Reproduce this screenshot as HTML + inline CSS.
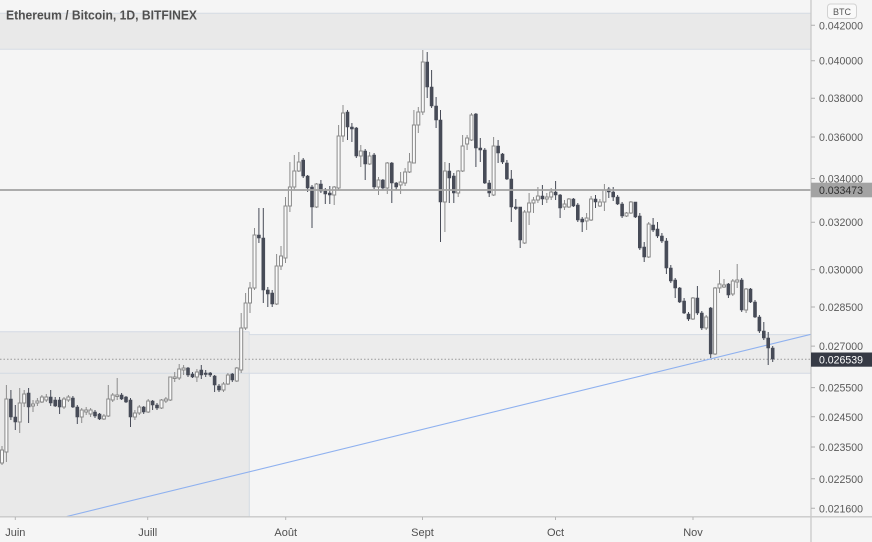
<!DOCTYPE html>
<html>
<head>
<meta charset="utf-8">
<style>
html,body{margin:0;padding:0;background:#f5f5f5;}
body{width:872px;height:542px;overflow:hidden;}
svg{display:block;}
text{font-family:"Liberation Sans",Arial,sans-serif;}
</style>
</head>
<body>
<svg width="872" height="542" viewBox="0 0 872 542" xmlns="http://www.w3.org/2000/svg">
<defs>
<clipPath id="pane"><rect x="0" y="0" width="811" height="516.5"/></clipPath>
</defs>
<rect x="0" y="0" width="872" height="542" fill="#f5f5f5"/>
<g clip-path="url(#pane)">
  <!-- top band -->
  <rect x="0" y="13.3" width="811" height="36" fill="#e9e9e9"/>
  <line x1="0" y1="13.3" x2="811" y2="13.3" stroke="#d6dce4" stroke-width="1"/>
  <line x1="0" y1="49.3" x2="811" y2="49.3" stroke="#d6dce4" stroke-width="1"/>
  <!-- left box -->
  <rect x="0" y="331.7" width="249.3" height="185" fill="#e9e9e9"/>
  <line x1="0" y1="331.7" x2="249.3" y2="331.7" stroke="#d3dae3" stroke-width="1"/>
  <line x1="249.3" y1="331.7" x2="249.3" y2="517" stroke="#d3dae3" stroke-width="1"/>
  <!-- band -->
  <rect x="249.3" y="334.6" width="562" height="38.7" fill="#ececec"/>
  <line x1="249.3" y1="334.6" x2="811" y2="334.6" stroke="#d3dae3" stroke-width="1"/>
  <line x1="0" y1="373.3" x2="811" y2="373.3" stroke="#d3dae3" stroke-width="1"/>
  <!-- last price dotted -->
  <line x1="0" y1="359.3" x2="811" y2="359.3" stroke="#9a9a9a" stroke-width="1" stroke-dasharray="1.5,2"/>
  <!-- trendline -->
  <line x1="66.7" y1="516.5" x2="811" y2="334.3" stroke="#8fb1ef" stroke-width="1.1"/>
  <!-- wicks -->
  <path fill="none" stroke="#474b57" stroke-width="1" d="M10.9 390V420M15.3 405V430M28.6 388V423M50.7 390V406M55.2 397V407M59.6 397V414M72.9 396V408M77.3 405V424M95 410V418M99.5 413V420M121.6 393V400M126 396V403M130.5 398V427M143.7 406V414M152.6 400V410M157 403V410M188 367V377M192.5 372V378M201.3 365V379M205.7 370V377M210.2 372V377M214.6 375V392M219 384V392M232.3 373V382M258.9 208V243M263.3 208V303M267.8 287V307M272.2 290V307M303.2 158V178M307.6 175V192M312 185V228M320.9 180V193M325.3 188V204M329.8 186V204M347.5 110V140M351.9 123V142M356.3 127V158M365.2 149V180M374.1 153V189M382.9 179V190M391.8 162V203M396.2 182V190M427.2 52V98M431.6 70V108M436.1 97V128M440.5 110V242M449.3 163V203M453.8 173V203M475.9 113V167M480.3 138V162M484.8 148V184M489.2 180V197M498.1 140V163M502.5 153V164M506.9 160V180M511.3 170V222M515.8 199V210M520.2 207V248M542.4 185V205M555.6 181V200M560.1 194V218M573.4 198V207M577.8 203V222M582.2 217V232M595.5 195V208M608.8 187V198M613.2 187V201M617.6 195V205M622.1 202V218M635.4 202V218M639.8 213V250M644.2 242V262M653.1 218V232M657.5 222V238M661.9 233V243M666.4 238V274M670.8 265V283M675.2 278V298M679.7 287V303M684.1 298V314M688.5 312V321M697.4 286V315M701.8 311V330M710.7 307V358M728.4 283V298M741.7 278V312M750.5 288V303M755 300V318M759.4 315V333M763.8 322V340M768.2 332V365M772.7 346V362"/>
  <path fill="none" stroke="#8c8c8c" stroke-width="1" d="M2 446V465M6.4 385V462M19.7 388V433M24.2 390V407M33 400V412M37.4 398V406M41.9 395V403M46.3 394V402M64 397V409M68.4 395V402M81.7 408V423M86.2 407V415M90.6 408V417M103.9 414V420M108.3 385V417M112.7 393V402M117.2 378V400M134.9 410V420M139.3 405V415M148.2 399V413M161.5 399V409M165.9 397V403M170.3 377V401M174.7 372V382M179.2 364V380M183.6 365V375M196.9 369V382M223.5 382V392M227.9 373V385M236.8 367V382M241.2 313V373M245.6 293V330M250 282V313M254.5 228V290M276.6 254V305M281 246V270M285.5 197V263M289.9 162V212M294.3 155V190M298.8 152V172M316.5 183V208M334.2 186V205M338.6 125V190M343 105V142M360.8 145V167M369.6 152V165M378.5 177V195M387.3 162V194M400.6 172V194M405.1 168V186M409.5 153V173M413.9 110V163M418.3 107V133M422.8 50V115M444.9 162V232M458.2 170V197M462.6 135V172M467.1 135V150M471.5 113V141M493.6 137V196M524.6 210V244M529.1 193V225M533.5 197V213M537.9 187V203M546.8 193V203M551.2 188V200M564.5 200V210M568.9 198V208M586.6 213V230M591.1 196V221M599.9 199V207M604.4 184V211M626.5 212V217M630.9 201V214M648.7 222V258M692.9 297V320M706.2 315V330M715.1 287V355M719.5 270V293M724 279V288M732.8 279V296M737.2 264V288M746.1 288V313"/>
  <!-- bodies -->
  <path fill="#474b57" stroke="#474b57" stroke-width="0.6" d="M9.4 399h3V417h-3ZM13.8 417h3V422h-3ZM27.1 393h3V407h-3ZM49.2 397h3V403h-3ZM53.7 400h3V406h-3ZM58.1 400h3V407h-3ZM71.4 398h3V407h-3ZM75.8 407h3V417h-3ZM93.5 412h3V416h-3ZM98 414h3V419h-3ZM120.1 395h3V399h-3ZM124.5 397h3V402h-3ZM129 400h3V417h-3ZM142.2 407h3V412h-3ZM151.1 401h3V405h-3ZM155.5 405h3V408h-3ZM186.5 368h3V375h-3ZM191 374h3V377h-3ZM199.8 370h3V375h-3ZM204.2 373h3V374.5h-3ZM208.7 373h3V375h-3ZM213.1 376h3V385h-3ZM217.5 386h3V390h-3ZM230.8 374h3V380h-3ZM257.4 235h3V238h-3ZM261.8 238h3V290h-3ZM266.3 290h3V294h-3ZM270.7 293h3V304h-3ZM301.7 160h3V176h-3ZM306.1 176h3V188h-3ZM310.5 187h3V207h-3ZM319.4 184h3V191h-3ZM323.8 191h3V194h-3ZM328.3 193h3V195h-3ZM346 112h3V127h-3ZM350.4 127h3V129h-3ZM354.8 128h3V156h-3ZM363.7 151h3V164h-3ZM372.6 155h3V187h-3ZM381.4 180h3V188h-3ZM390.3 163h3V183h-3ZM394.7 183h3V187h-3ZM425.7 62h3V87h-3ZM430.1 87h3V106h-3ZM434.6 106h3V120h-3ZM439 120h3V202h-3ZM447.8 171h3V178h-3ZM452.3 176h3V193h-3ZM474.4 114h3V148h-3ZM478.8 148h3V150h-3ZM483.3 150h3V183h-3ZM487.7 183h3V193h-3ZM496.6 146h3V153h-3ZM501 154h3V162h-3ZM505.4 163h3V179h-3ZM509.8 179h3V207h-3ZM514.3 207h3V208.5h-3ZM518.7 207h3V240h-3ZM540.9 196h3V199h-3ZM554.1 192h3V195h-3ZM558.6 195h3V208h-3ZM571.9 199h3V206h-3ZM576.3 205h3V220h-3ZM580.7 219h3V222h-3ZM594 199h3V202h-3ZM607.3 189h3V192h-3ZM611.7 192h3V197h-3ZM616.1 197h3V204h-3ZM620.6 204h3V216h-3ZM633.9 202h3V217h-3ZM638.3 216h3V248h-3ZM642.7 247h3V257h-3ZM651.6 225h3V230h-3ZM656 229h3V236h-3ZM660.4 236h3V241h-3ZM664.9 241h3V268h-3ZM669.3 268h3V281h-3ZM673.7 280h3V288h-3ZM678.2 288h3V302h-3ZM682.6 301h3V313h-3ZM687 314h3V319h-3ZM695.9 298h3V313h-3ZM700.3 313h3V328h-3ZM709.2 308h3V354h-3ZM726.9 284h3V295h-3ZM740.2 280h3V310h-3ZM749 289h3V302h-3ZM753.5 302h3V317h-3ZM757.9 317h3V331h-3ZM762.3 331h3V338h-3ZM766.7 338h3V348h-3ZM771.2 348h3V359h-3Z"/>
  <path fill="#fafafa" stroke="#8a8a8a" stroke-width="1" d="M0.5 450h3V463h-3ZM4.9 399h3V452h-3ZM18.2 403h3V422h-3ZM22.7 394h3V403h-3ZM31.5 404h3V406h-3ZM35.9 401h3V403h-3ZM40.4 397h3V402h-3ZM44.8 397h3V400h-3ZM62.5 399h3V407h-3ZM66.9 397h3V400h-3ZM80.2 410h3V417h-3ZM84.7 410h3V412h-3ZM89.1 410h3V414h-3ZM102.4 416h3V419h-3ZM106.8 399h3V416h-3ZM111.2 395h3V400h-3ZM115.7 395h3V396.5h-3ZM133.4 413h3V417h-3ZM137.8 407h3V413h-3ZM146.7 401h3V412h-3ZM160 400h3V408h-3ZM164.4 399h3V401h-3ZM168.8 377h3V400h-3ZM173.2 377h3V378.5h-3ZM177.7 369h3V378h-3ZM182.1 368h3V370h-3ZM195.4 372h3V377h-3ZM222 384h3V390h-3ZM226.4 375h3V384h-3ZM235.3 368h3V381h-3ZM239.7 328h3V370h-3ZM244.1 303h3V328h-3ZM248.5 288h3V303h-3ZM253 235h3V288h-3ZM275.1 266h3V304h-3ZM279.5 256h3V266h-3ZM284 206h3V258h-3ZM288.4 187h3V206h-3ZM292.8 171h3V187h-3ZM297.3 162h3V171h-3ZM315 184h3V207h-3ZM332.7 187h3V195h-3ZM337.1 136h3V188h-3ZM341.5 113h3V136h-3ZM359.3 151h3V156h-3ZM368.1 156h3V164h-3ZM377 180h3V187h-3ZM385.8 163h3V188h-3ZM399.1 182h3V185h-3ZM403.6 172h3V183h-3ZM408 162h3V172h-3ZM412.4 125h3V163h-3ZM416.8 112h3V125h-3ZM421.3 62h3V112h-3ZM443.4 171h3V202h-3ZM456.7 171h3V193h-3ZM461.1 146h3V171h-3ZM465.6 138h3V144h-3ZM470 115h3V140h-3ZM492.1 146h3V195h-3ZM523.1 212h3V243h-3ZM527.6 203h3V212h-3ZM532 200h3V203h-3ZM536.4 196h3V200h-3ZM545.3 197h3V199h-3ZM549.7 192h3V197h-3ZM563 204h3V207h-3ZM567.4 199h3V207h-3ZM585.1 218h3V221h-3ZM589.6 199h3V220h-3ZM598.4 202h3V206h-3ZM602.9 190h3V202h-3ZM625 213h3V216h-3ZM629.4 202h3V213h-3ZM647.2 224h3V257h-3ZM691.4 298h3V319h-3ZM704.7 317h3V328h-3ZM713.6 288h3V354h-3ZM718 284h3V288h-3ZM722.5 285h3V287h-3ZM731.3 281h3V294h-3ZM735.7 280h3V282h-3ZM744.6 289h3V310h-3Z"/>
  <!-- horizontal level -->
  <line x1="0" y1="190" x2="811" y2="190" stroke="#a2a2a2" stroke-width="1.8"/>
</g>

<!-- title -->
<text x="6" y="19.5" font-size="12.5" font-weight="bold" fill="#505050" textLength="191" lengthAdjust="spacingAndGlyphs">Ethereum / Bitcoin, 1D, BITFINEX</text>

<!-- axes -->
<line x1="811" y1="0" x2="811" y2="542" stroke="#c6c6c6" stroke-width="1.2"/>
<line x1="0" y1="516.8" x2="872" y2="516.8" stroke="#c9c9c9" stroke-width="1.3"/>

<!-- right ticks -->
<g stroke="#b0b0b0" stroke-width="1">
  <path d="M811 25.3h4M811 60.7h4M811 98.2h4M811 137h4M811 178.5h4M811 222.2h4M811 269.6h4M811 307h4M811 346.1h4M811 387.6h4M811 416.8h4M811 447h4M811 478.8h4M811 508.3h4"/>
</g>
<g font-size="11" fill="#5a5a5a">
  <text x="819" y="29.3" textLength="44" lengthAdjust="spacingAndGlyphs">0.042000</text>
  <text x="819" y="64.7" textLength="44" lengthAdjust="spacingAndGlyphs">0.040000</text>
  <text x="819" y="102.2" textLength="44" lengthAdjust="spacingAndGlyphs">0.038000</text>
  <text x="819" y="141" textLength="44" lengthAdjust="spacingAndGlyphs">0.036000</text>
  <text x="819" y="182.5" textLength="44" lengthAdjust="spacingAndGlyphs">0.034000</text>
  <text x="819" y="226" textLength="44" lengthAdjust="spacingAndGlyphs">0.032000</text>
  <text x="819" y="273.5" textLength="44" lengthAdjust="spacingAndGlyphs">0.030000</text>
  <text x="819" y="311" textLength="44" lengthAdjust="spacingAndGlyphs">0.028500</text>
  <text x="819" y="350" textLength="44" lengthAdjust="spacingAndGlyphs">0.027000</text>
  <text x="819" y="391.5" textLength="44" lengthAdjust="spacingAndGlyphs">0.025500</text>
  <text x="819" y="420.8" textLength="44" lengthAdjust="spacingAndGlyphs">0.024500</text>
  <text x="819" y="451" textLength="44" lengthAdjust="spacingAndGlyphs">0.023500</text>
  <text x="819" y="482.8" textLength="44" lengthAdjust="spacingAndGlyphs">0.022500</text>
  <text x="819" y="512.3" textLength="44" lengthAdjust="spacingAndGlyphs">0.021600</text>
</g>

<!-- price labels -->
<rect x="811" y="182.7" width="61" height="14.6" fill="#a3a3a3"/>
<text x="819" y="194.2" font-size="11" fill="#2e2e2e" textLength="44" lengthAdjust="spacingAndGlyphs">0.033473</text>
<rect x="811" y="352.5" width="61" height="14.2" fill="#363a45"/>
<text x="819" y="363.6" font-size="11" fill="#ffffff" textLength="44" lengthAdjust="spacingAndGlyphs">0.026539</text>

<!-- BTC badge -->
<rect x="827.5" y="4" width="29" height="14.5" rx="3" ry="3" fill="#f9f9f9" stroke="#d2d2d2" stroke-width="1"/>
<text x="842" y="14.8" font-size="9" fill="#555" text-anchor="middle">BTC</text>

<!-- bottom ticks -->
<path stroke="#b5b5b5" stroke-width="1" d="M15.3 517v3M147.7 517v3M285.7 517v3M422.5 517v3M555.5 517v3M693 517v3"/>
<g font-size="11" fill="#505050" text-anchor="middle">
  <text x="15.3" y="536">Juin</text>
  <text x="147.7" y="536">Juill</text>
  <text x="285.7" y="536">Août</text>
  <text x="422.5" y="536">Sept</text>
  <text x="555.5" y="536">Oct</text>
  <text x="693" y="536">Nov</text>
</g>
</svg>
</body>
</html>
